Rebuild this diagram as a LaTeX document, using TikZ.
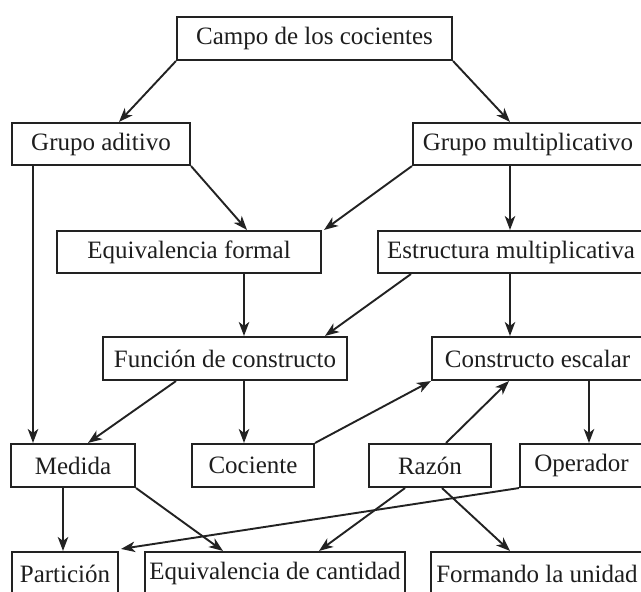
\documentclass[tikz,border=0pt]{standalone}
\usepackage{fontspec}
\setmainfont{Liberation Serif}
\usetikzlibrary{arrows.meta}
\definecolor{linec}{HTML}{222222}
\definecolor{textc}{HTML}{1E1E1E}
\begin{document}
\begin{tikzpicture}[x=1pt,y=-1pt,
  box/.style={draw=linec, line width=2.1pt, inner sep=0pt, minimum height=43pt,
    text=textc, font=\fontsize{25}{30}\selectfont},
  arr/.style={draw=linec, line width=1.9pt, -{Stealth[length=14pt,width=10.5pt,inset=4pt]}}]
\useasboundingbox (0,0) rectangle (641,592);
\clip (0,0) rectangle (641,592);
\fill[white] (0,0) rectangle (641,592);
% row 1
\node[box, minimum width=275pt] (campo) at (314.5,38.5) {Campo de los cocientes};
% row 2
\node[box, minimum width=178pt, minimum height=42pt] (ga) at (101,144) {Grupo aditivo};
\node[box, minimum width=230pt, minimum height=42pt] (gm) at (528,144) {Grupo multiplicativo};
% row 3
\node[box, minimum width=264pt, minimum height=42pt] (ef) at (189,252) {Equivalencia formal};
\node[box, minimum width=266pt, minimum height=42pt] (em) at (511,252) {Estructura multiplicativa};
% row 4
\node[box, minimum width=244pt] (fc) at (225,358.5) {Función de constructo};
\node[box, minimum width=211pt] (ce) at (537.5,358.5) {Constructo escalar};
% row 5
\node[box, minimum width=124pt] (me) at (73,465.5) {Medida};
\node[box, minimum width=122pt] (co) at (253,465.5) {Cociente};
\node[box, minimum width=122pt] (ra) at (430,465.5) {Razón};
\node[box, minimum width=123pt] (op) at (581.5,465.5) {Operador};
% row 6
\node[box, minimum width=106pt] (pa) at (65,573.5) {Partición};
\node[box, minimum width=260pt] (eq) at (275,573.5) {Equivalencia de cantidad};
\node[box, minimum width=212pt] (fu) at (537,573.5) {Formando la unidad};
% connectors
\draw[arr] (campo.south west) -- ([xshift=18pt]ga.north);
\draw[arr] (campo.south east) -- ([xshift=-18pt]gm.north);
\draw[arr] ([xshift=-68pt]ga.south) -- ([xshift=-40pt]me.north);
\draw[arr] (ga.south east) -- ([xshift=58pt]ef.north);
\draw[arr] (gm.south west) -- ([xshift=2pt]ef.north east);
\draw[arr] ([xshift=-18pt]gm.south) -- ([xshift=-1pt]em.north);
\draw[arr] ([xshift=55pt]ef.south) -- ([xshift=19pt]fc.north);
\draw[arr] ([xshift=34pt]em.south west) -- ([xshift=100pt]fc.north);
\draw[arr] ([xshift=-1pt]em.south) -- ([xshift=-27.5pt]ce.north);
\draw[arr] ([xshift=-49pt]fc.south) -- ([xshift=15pt]me.north);
\draw[arr] ([xshift=19pt]fc.south) -- ([xshift=-9pt]co.north);
\draw[arr] (co.north east) -- (ce.south west);
\draw[arr] ([xshift=16pt]ra.north) -- ([xshift=-28.5pt]ce.south);
\draw[arr] ([xshift=51.5pt]ce.south) -- ([xshift=7.5pt]op.north);
\draw[arr] ([xshift=-10pt]me.south) -- ([xshift=-2pt]pa.north);
\draw[arr] (me.south east) -- ([xshift=-52pt]eq.north);
\draw[arr] ([xshift=-25pt]ra.south) -- ([xshift=44pt]eq.north);
\draw[arr] ([xshift=12pt]ra.south) -- ([xshift=-27pt]fu.north);
\draw[arr] (op.south west) -- ([xshift=2pt,yshift=2pt]pa.north east);
\end{tikzpicture}
\end{document}
